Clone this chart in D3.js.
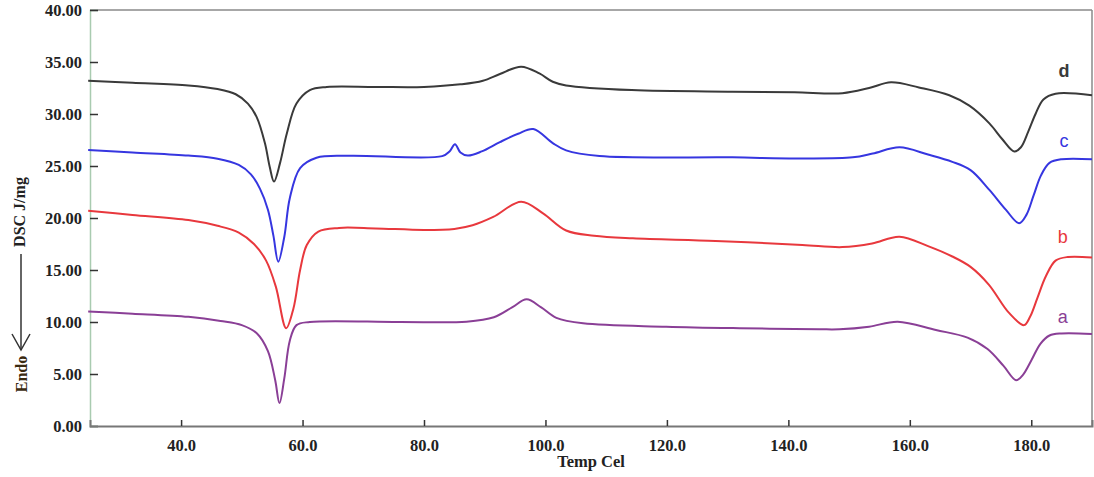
<!DOCTYPE html>
<html>
<head>
<meta charset="utf-8">
<script src="https://cdn.jsdelivr.net/npm/d3@7"></script>
<style>
  body { margin: 0; background: #fff; }
  svg { display: block; }
  .tick text { font-family: "Liberation Serif", serif; font-weight: bold; font-size: 16.5px; fill: #222; }
  .tick line { stroke: #333; stroke-width: 1.5; }
</style>
</head>
<body>
<div id="chart"></div>
<script>
// DSC traces, [temperature (Cel), heat flow (J/mg)]
var seriesD = [[24.7,33.2],[32,33.0],[41.2,32.75],[46,32.4],[49,31.9],[51,31.0],[52.45,29.7],[53.8,27.2],[54.6,24.9],[55.3,23.5],[56.3,25.3],[57.4,28.1],[59.0,31.0],[61.2,32.3],[64.0,32.6],[72,32.6],[80,32.6],[86,32.85],[89.7,33.2],[92.5,33.85],[96.0,34.55],[99.0,33.9],[101.2,33.1],[103.4,32.75],[114.2,32.3],[130.8,32.15],[141,32.1],[148.9,32.0],[153.3,32.5],[156.9,33.05],[161.5,32.55],[166.5,31.8],[169.8,30.8],[173.1,29.1],[175.2,27.6],[177.2,26.4],[178.3,26.8],[179.5,28.3],[180.7,30.0],[182,31.4],[184,31.95],[190,31.8]];
var seriesC = [[24.7,26.55],[32,26.3],[41.2,26.0],[46,25.7],[49.5,25.1],[51.5,24.2],[53,22.8],[54.3,20.8],[55.2,18.3],[56.0,15.8],[57.0,18.2],[57.9,21.9],[59.6,24.8],[62.3,25.8],[67.8,25.99],[83,25.95],[84.2,26.4],[85.1,27.1],[86,26.3],[87.2,26.0],[89.5,26.4],[92.5,27.3],[95.5,28.1],[98,28.55],[101.2,27.2],[103.4,26.5],[108.9,25.96],[130.8,25.83],[141.3,25.73],[150.6,25.83],[153.9,26.2],[158.3,26.8],[163,26.1],[167,25.4],[170,24.6],[173.1,22.7],[175.8,20.8],[178,19.5],[179.2,20.3],[180.4,22.2],[181.6,24.1],[183,25.3],[185,25.65],[190,25.65]];
var seriesB = [[24.7,20.7],[32,20.3],[41.2,19.8],[46,19.25],[49.5,18.6],[52,17.5],[54,15.9],[55.6,13.4],[57.3,9.4],[58.5,11.3],[59.6,15.0],[60.7,17.4],[62.6,18.7],[66,19.05],[72,19.0],[80,18.85],[85,18.95],[88,19.3],[91.4,20.1],[96,21.57],[99.6,20.45],[103.4,18.8],[108,18.3],[114.4,18.05],[128,17.8],[142.3,17.4],[148.9,17.2],[153.8,17.55],[158.3,18.2],[163,17.3],[167,16.3],[170,15.3],[173,13.6],[176.3,10.9],[178.8,9.7],[179.8,10.5],[181,12.3],[182.4,14.4],[184,15.9],[186,16.25],[190,16.2]];
var seriesA = [[24.7,11.0],[32,10.8],[41.2,10.5],[46.5,10.1],[50,9.7],[52.5,8.9],[54.3,7.2],[55.5,4.4],[56.2,2.2],[57.0,4.6],[57.9,8.2],[59,9.7],[61.2,10.0],[76,10.0],[87,10.03],[91.5,10.45],[94.5,11.4],[96.9,12.18],[99.3,11.4],[101.8,10.4],[106.2,9.87],[119.9,9.55],[132,9.4],[145.1,9.3],[148.4,9.3],[153.3,9.55],[158,10.03],[164.3,9.23],[169.5,8.5],[172.8,7.4],[175.4,5.8],[177.5,4.4],[178.6,4.9],[180,6.3],[181.5,7.9],[183,8.7],[185,8.9],[190,8.85]];

var seriesNames = ['a', 'b', 'c', 'd'];
var seriesColors = ['#8a3f96', '#e8383d', '#3636e0', '#3a3a3a'];
var xTicks = [40, 60, 80, 100, 120, 140, 160, 180];
var yTicks = [0, 5, 10, 15, 20, 25, 30, 35, 40];

var width = 1094, height = 477;
var margin = {top: 10, right: 2, bottom: 51, left: 90};

var svg = d3.select('#chart').append('svg')
  .attr('width', width)
  .attr('height', height);

var x = d3.scaleLinear().domain([25, 190]).range([margin.left, width - margin.right]);
var y = d3.scaleLinear().domain([0, 40]).range([height - margin.bottom, margin.top]);

// frame
svg.append('line').attr('x1', x(25)).attr('x2', x(190)).attr('y1', y(40)).attr('y2', y(40))
  .attr('stroke', '#8a8a8a').attr('stroke-width', 1.5);
svg.append('line').attr('x1', x(190)).attr('x2', x(190)).attr('y1', y(40)).attr('y2', y(0))
  .attr('stroke', '#8a8a8a').attr('stroke-width', 1.5);

// y axis, ticks point inward
var yAxis = svg.append('g')
  .attr('transform', 'translate(' + margin.left + ',0)')
  .call(d3.axisLeft(y).tickValues(yTicks).tickFormat(d3.format('.2f')).tickSize(-8).tickPadding(8));
yAxis.select('.domain').attr('stroke', '#a9cbb0').attr('stroke-width', 1.5);

var xAxis = svg.append('g')
  .attr('transform', 'translate(0,' + y(0) + ')')
  .call(d3.axisBottom(x).tickValues(xTicks).tickFormat(d3.format('.1f')).tickSize(-6).tickPadding(13));
xAxis.select('.domain').attr('stroke', '#777').attr('stroke-width', 2);

// traces
var line = d3.line()
  .x(function(d) { return x(d[0]); })
  .y(function(d) { return y(d[1]); })
  .curve(d3.curveCatmullRom.alpha(0.5));

var allSeries = [seriesA, seriesB, seriesC, seriesD];
svg.selectAll('path.trace')
  .data(allSeries)
  .enter()
  .append('path')
    .attr('class', 'trace')
    .attr('fill', 'none')
    .attr('stroke', function(d, i) { return seriesColors[i]; })
    .attr('stroke-width', 2)
    .attr('d', line);

// series letters sit just above each right-hand plateau
var labelAt = [[185.2, 9.9], [185.2, 17.6], [185.4, 26.8], [185.4, 33.6]];
svg.selectAll('text.series')
  .data(seriesNames)
  .enter()
  .append('text')
    .attr('class', 'series')
    .attr('x', function(d, i) { return x(labelAt[i][0]); })
    .attr('y', function(d, i) { return y(labelAt[i][1]); })
    .attr('text-anchor', 'middle')
    .attr('font-family', 'Liberation Sans, Arial, sans-serif')
    .attr('font-weight', function(d) { return d === 'd' ? 'bold' : 'normal'; })
    .attr('font-size', 18)
    .attr('fill', function(d, i) { return seriesColors[i]; })
    .text(function(d) { return d; });

// axis titles
svg.append('text')
  .attr('x', 591).attr('y', 467)
  .attr('text-anchor', 'middle')
  .attr('font-family', 'Liberation Serif, serif')
  .attr('font-weight', 'bold')
  .attr('font-size', 16.5)
  .attr('fill', '#222')
  .text('Temp Cel');

svg.append('text')
  .attr('transform', 'translate(25,212) rotate(-90)')
  .attr('text-anchor', 'middle')
  .attr('font-family', 'Liberation Serif, serif')
  .attr('font-weight', 'bold')
  .attr('font-size', 16)
  .attr('fill', '#222')
  .text('DSC J/mg');

// endo arrow
svg.append('line').attr('x1', 21).attr('x2', 21).attr('y1', 254).attr('y2', 350)
  .attr('stroke', '#333').attr('stroke-width', 1.5);
svg.append('path').attr('d', 'M12,334 L21,350 L30,334')
  .attr('fill', 'none').attr('stroke', '#333').attr('stroke-width', 1.5);

svg.append('text')
  .attr('transform', 'translate(27,374) rotate(-90)')
  .attr('text-anchor', 'middle')
  .attr('font-family', 'Liberation Serif, serif')
  .attr('font-weight', 'bold')
  .attr('font-size', 16)
  .attr('fill', '#3a2a10')
  .text('Endo');
</script>
</body>
</html>
